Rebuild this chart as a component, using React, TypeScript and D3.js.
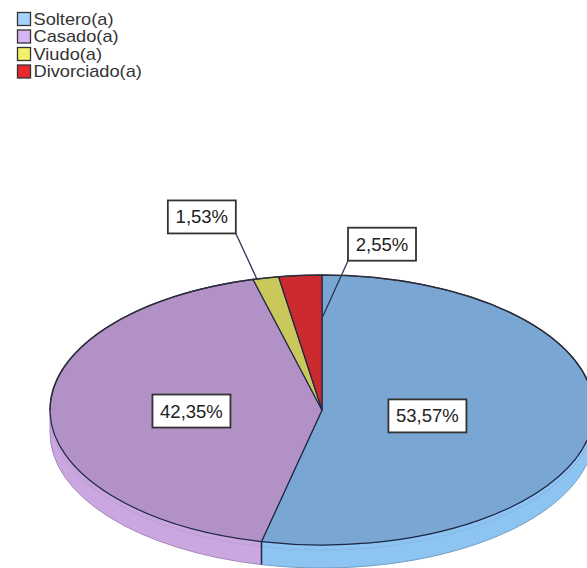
import React from "react";
import * as d3 from "d3";

// Estado civil: share of respondents per category
const categories = ["Soltero(a)", "Casado(a)", "Viudo(a)", "Divorciado(a)"];
const percentages = [53.57, 42.35, 1.53, 2.55];
const percentLabels = ["53,57%", "42,35%", "1,53%", "2,55%"];

// Palette per category: top face, side wall, legend swatch
const topColors = ["#7aa6d3", "#b291c6", "#cac75b", "#cb2a2f"];
const wallColors = ["#8ec4f2", "#caa7e1", "#dedc72", "#e24044"];
const swatchColors = ["#a3d2fa", "#d9b4f3", "#f3f06c", "#e8282c"];

// Label placement per slice: inside labels sit on the mid angle at a radius fraction,
// outside labels hang off a leader line (anchor at angle/radius fraction, box offset)
type LabelLayout =
  | { kind: "inside"; r: number }
  | { kind: "outside"; t: number; r: number; dx: number; dy: number; corner: "br" | "bl" };
const labelLayout: LabelLayout[] = [
  { kind: "inside", r: 0.39 },
  { kind: "inside", r: 0.48 },
  { kind: "outside", t: 0.15, r: 1.0, dx: -55, dy: -62, corner: "br" },
  { kind: "outside", t: 1.0, r: 0.68, dx: 60, dy: -74, corner: "bl" },
];

const W = 587;
const H = 568;
const cx = 322;
const cy = 410;
const rx = 272;
const ry = 135;
const depth = 23;

const font = "Arial, 'Liberation Sans', sans-serif";

function pt(a: number, f = 1, dz = 0): [number, number] {
  return [cx + rx * f * Math.sin(a), cy - ry * f * Math.cos(a) + dz];
}

function topPath(a0: number, a1: number) {
  const [x0, y0] = pt(a0);
  const [x1, y1] = pt(a1);
  const large = a1 - a0 > Math.PI ? 1 : 0;
  return `M${cx},${cy}L${x0},${y0}A${rx},${ry} 0 ${large} 1 ${x1},${y1}Z`;
}

function rimPath(a0: number, a1: number, dz = 0) {
  const [x0, y0] = pt(a0, 1, dz);
  const [x1, y1] = pt(a1, 1, dz);
  const large = a1 - a0 > Math.PI ? 1 : 0;
  return `M${x0},${y0}A${rx},${ry} 0 ${large} 1 ${x1},${y1}`;
}

function wallPath(a0: number, a1: number) {
  const [x0, y0] = pt(a0);
  const [x1, y1] = pt(a1);
  return (
    `M${x0},${y0}A${rx},${ry} 0 0 1 ${x1},${y1}` +
    `L${x1},${y1 + depth}A${rx},${ry} 0 0 0 ${x0},${y0 + depth}Z`
  );
}

export default function App() {
  const pie = d3
    .pie<number>()
    .sort(null)
    .value((d) => d)
    .startAngle(0)
    .endAngle(2 * Math.PI);
  const arcs = pie(percentages);

  const frontStart = Math.PI / 2;
  const frontEnd = (3 * Math.PI) / 2;

  const labelW = (s: string) => (s.length > 5 ? 78 : 68);
  const labelH = 33;

  return (
    <svg
      width={W}
      height={H}
      viewBox={`0 0 ${W} ${H}`}
      style={{ position: "absolute", left: 0, top: 0, background: "#fff" }}
    >
      {/* legend */}
      <g fontFamily={font} fontSize={16} fill="#333">
        {categories.map((c, i) => (
          <g key={c} transform={`translate(17, ${12 + i * 17.5})`}>
            <rect
              x={0.5}
              y={0.5}
              width={13}
              height={13}
              fill={swatchColors[i]}
              stroke="#333"
              strokeWidth={1.3}
            />
            <text transform="translate(16.5, 12.5) scale(1.14, 1)">{c}</text>
          </g>
        ))}
      </g>

      {/* side walls, front half only */}
      {arcs.map((a, i) => {
        const s = Math.max(a.startAngle, frontStart);
        const e = Math.min(a.endAngle, frontEnd);
        if (e <= s) return null;
        const base = d3.color(wallColors[i])!;
        return (
          <g key={`w${i}`}>
            <path d={wallPath(s, e)} fill={wallColors[i]} stroke={base.darker(0.6).formatHex()} strokeWidth={1} />
            <path
              d={rimPath(s, e, 5)}
              fill="none"
              stroke={base.darker(0.25).formatHex()}
              strokeWidth={1.2}
              opacity={0.6}
            />
          </g>
        );
      })}
      {/* seams between walls */}
      {arcs.map((a, i) => {
        const ang = a.startAngle;
        if (ang <= frontStart || ang >= frontEnd) return null;
        const [x, y] = pt(ang);
        return <line key={`s${i}`} x1={x} y1={y} x2={x} y2={y + depth} stroke="#1e2846" strokeWidth={1.5} />;
      })}

      {/* top faces */}
      {arcs.map((a, i) => (
        <path
          key={`t${i}`}
          d={topPath(a.startAngle, a.endAngle)}
          fill={topColors[i]}
          stroke="#1e2846"
          strokeWidth={1.2}
          strokeLinejoin="round"
        />
      ))}
      {/* back rim outline */}
      <path d={rimPath(-Math.PI / 2, Math.PI / 2)} fill="none" stroke="#2e2e3a" strokeWidth={1.4} />

      {/* value labels */}
      {arcs.map((a, i) => {
        const lay = labelLayout[i];
        const txt = percentLabels[i];
        const w = labelW(txt);
        let bx: number, by: number;
        let leader: React.ReactNode = null;
        if (lay.kind === "inside") {
          const mid = (a.startAngle + a.endAngle) / 2;
          const [x, y] = pt(mid, lay.r);
          bx = x;
          by = y;
        } else {
          const ang = a.startAngle + lay.t * (a.endAngle - a.startAngle);
          const [ex, ey] = pt(ang, lay.r);
          bx = ex + lay.dx;
          by = ey + lay.dy;
          const sx = lay.corner === "br" ? bx + w / 2 : bx - w / 2;
          const sy = by + labelH / 2;
          leader = <line x1={sx} y1={sy} x2={ex} y2={ey} stroke="#2a3550" strokeWidth={1.3} />;
        }
        return (
          <g key={`l${i}`}>
            {leader}
            <rect
              x={bx - w / 2}
              y={by - labelH / 2}
              width={w}
              height={labelH}
              fill="#fff"
              stroke="#333"
              strokeWidth={1.8}
            />
            <text
              x={bx}
              y={by + 6.5}
              textAnchor="middle"
              fontFamily={font}
              fontSize={18.5}
              fill="#222"
            >
              {txt}
            </text>
          </g>
        );
      })}
    </svg>
  );
}
